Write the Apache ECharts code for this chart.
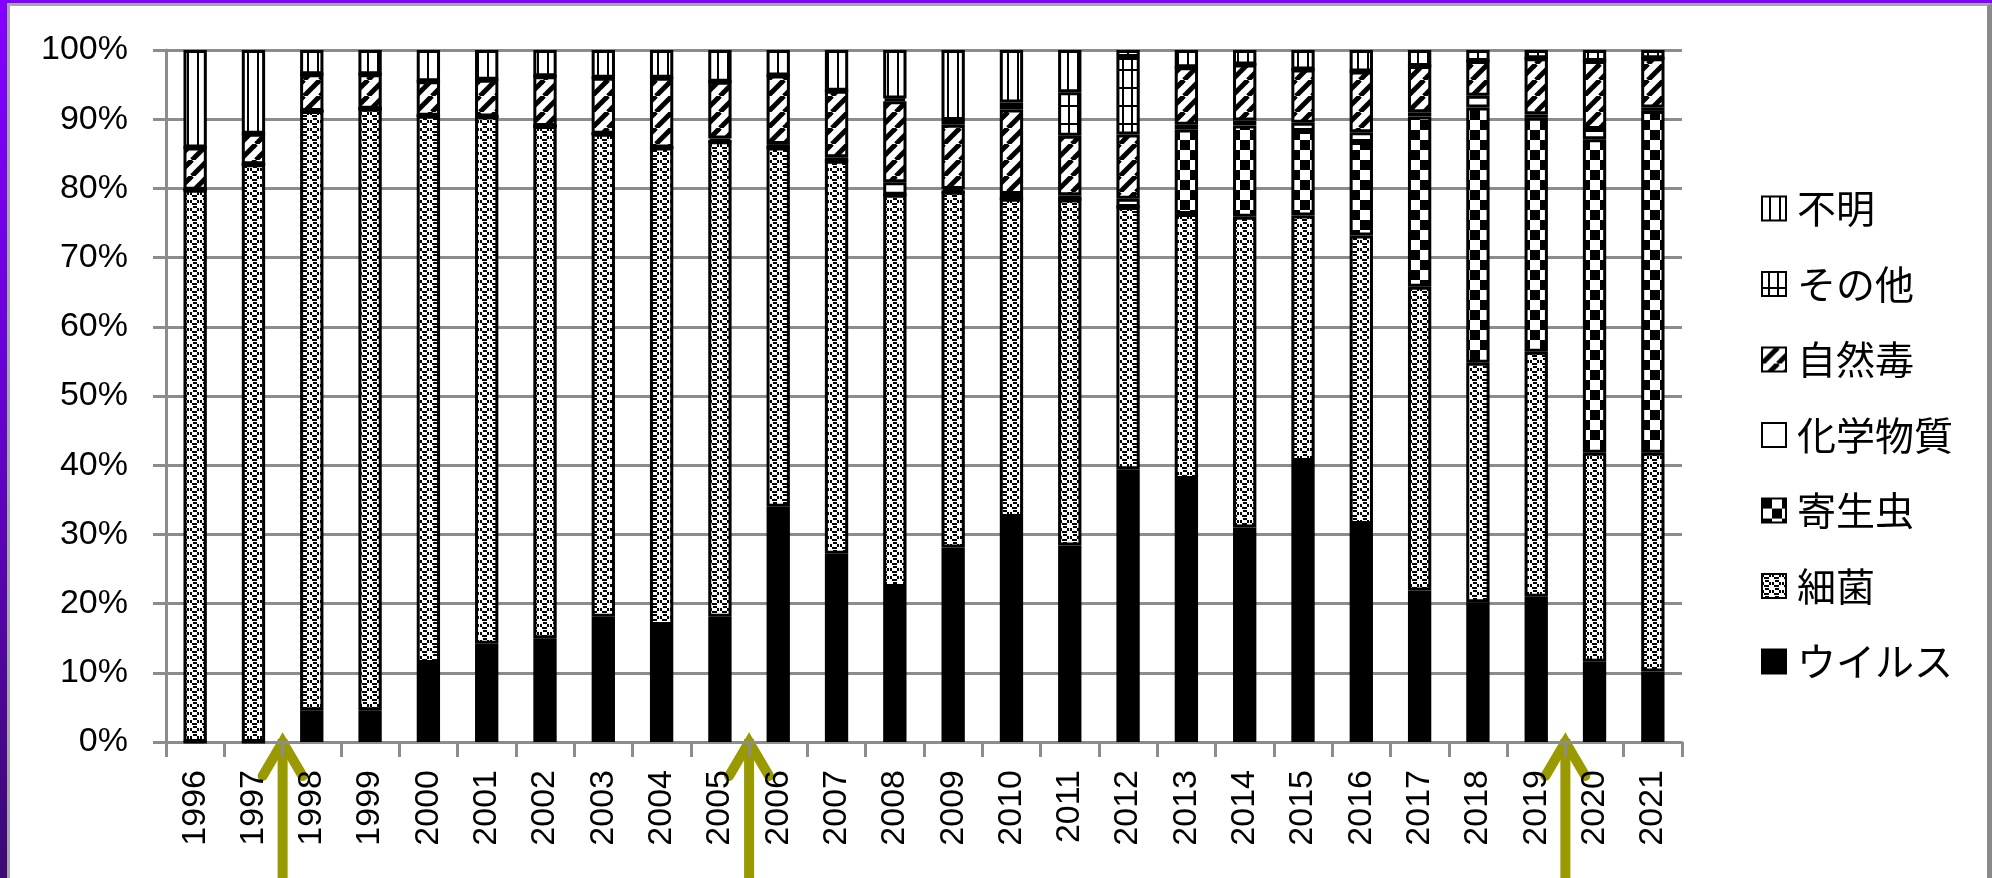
<!DOCTYPE html>
<html>
<head>
<meta charset="utf-8">
<script src="https://cdn.jsdelivr.net/npm/echarts@6/dist/echarts.min.js"></script>
<style>
  html, body { margin: 0; padding: 0; width: 1992px; height: 878px; overflow: hidden; }
  body { background: linear-gradient(180deg, #8400ff 0%, #6a00d8 40%, #3c0a72 100%); position: relative; }
  #frame {
    position: absolute; left: 7px; top: 3px; right: 0; bottom: -10px;
    background: #fff;
    border-left: 3px solid #a6a6a6; border-top: 3px solid #a6a6a6; border-right: 5px solid #8a8a8a;
  }
  #chart { position: absolute; left: 0; top: 0; width: 1992px; height: 878px; }
</style>
</head>
<body>
<div id="frame"></div>
<div id="chart"></div>
<script>
// Share of food-poisoning incidents by cause, per year (percent of total)
const years = ['1996','1997','1998','1999','2000','2001','2002','2003','2004','2005','2006','2007','2008',
               '2009','2010','2011','2012','2013','2014','2015','2016','2017','2018','2019','2020','2021'];
const virus        = [0, 0, 4.6, 4.6, 11.4, 14.2, 15.0, 18.1, 16.9, 18.1, 34.0, 27.2, 22.4,
                      28.1, 32.5, 28.4, 39.4, 38.0, 31.0, 40.6, 31.5, 21.9, 20.2, 21.0, 11.6, 10.2];
const bacteria     = [79.8, 83.5, 86.6, 86.9, 79.1, 76.2, 74.0, 69.8, 69.0, 68.7, 51.9, 56.8, 56.7,
                      51.4, 46.0, 50.0, 37.9, 38.3, 44.9, 35.5, 41.7, 43.9, 34.6, 35.4, 30.2, 31.6];
const parasite     = [0, 0, 0, 0, 0, 0, 0, 0, 0, 0, 0, 0, 0,
                      0, 0, 0, 0, 12.2, 13.2, 12.2, 13.5, 24.6, 36.9, 33.8, 45.3, 49.4];
const chemical     = [0, 0, 0, 0, 0, 0, 0, 0, 0, 0.4, 0.5, 0.5, 1.8,
                      0.4, 0.7, 0.6, 1.2, 0.7, 0.7, 1.2, 1.4, 0.6, 1.7, 0.5, 1.5, 0.5];
const naturalToxin = [6.1, 4.4, 5.3, 5.0, 5.0, 5.3, 7.2, 8.1, 10.1, 8.2, 9.9, 9.6, 11.7,
                      9.3, 12.2, 8.6, 9.3, 8.3, 8.1, 7.7, 8.8, 6.7, 5.0, 8.1, 9.8, 7.1];
const other        = [0, 0, 0, 0, 0, 0, 0, 0, 0, 0, 0, 0, 0.4,
                      0.7, 1.0, 6.3, 11.2, 0, 0, 0, 0, 0, 0, 0, 0, 0];
const unknown      = [14.1, 12.1, 3.5, 3.5, 4.5, 4.3, 3.8, 4.0, 4.0, 4.6, 3.7, 5.9, 7.0,
                      10.1, 7.6, 6.1, 1.0, 2.5, 2.1, 2.8, 3.1, 2.3, 1.6, 1.2, 1.6, 1.2];
const seriesNames  = ['ウイルス', '細菌', '寄生虫', '化学物質', '自然毒', 'その他', '不明'];
const legendOrder  = ['不明', 'その他', '自然毒', '化学物質', '寄生虫', '細菌', 'ウイルス'];
// arrows stand on the boundary right after these years
const arrowAfter   = ['1997', '2005', '2019'];

// monochrome hatch tiles
function tile(w, h, draw) {
  const c = document.createElement('canvas');
  c.width = w; c.height = h;
  const g = c.getContext('2d');
  g.fillStyle = '#fff'; g.fillRect(0, 0, w, h);
  g.fillStyle = '#000'; g.strokeStyle = '#000';
  draw(g);
  return { image: c, repeat: 'repeat' };
}
const fills = {
  'ウイルス': '#000',
  '細菌': tile(10, 8, g => {
    g.fillRect(0, 0, 2, 3); g.fillRect(2, 3, 5, 2); g.fillRect(7, 0, 2, 3);
    g.fillRect(3, 6, 4, 2);
  }),
  '寄生虫': tile(20, 20, g => { g.fillRect(0, 0, 10, 10); g.fillRect(10, 10, 10, 10); }),
  '化学物質': '#fff',
  '自然毒': tile(16, 16, g => {
    g.lineWidth = 5;
    [-16, 0, 16].forEach(k => { g.beginPath(); g.moveTo(k, 16); g.lineTo(k + 16, 0); g.stroke(); });
  }),
  'その他': tile(9, 18, g => { g.fillRect(6, 0, 2, 18); g.fillRect(0, 15, 9, 2); }),
  '不明': tile(10, 4, g => { g.fillRect(7, 0, 2, 4); })
};
const values = [virus, bacteria, parasite, chemical, naturalToxin, other, unknown];

const chart = echarts.init(document.getElementById('chart'), null, { renderer: 'canvas' });
const axisFont = { fontFamily: 'Liberation Sans, Arial, sans-serif', fontSize: 34, color: '#000' };

chart.setOption({
  animation: false,
  grid: { left: 166, right: 310, top: 50, bottom: 136 },
  legend: {
    orient: 'vertical', left: 1761, top: 189, padding: 0,
    icon: 'rect',
    itemWidth: 24, itemHeight: 24, itemGap: 36.5,
    selectedMode: false,
    data: legendOrder,
    textStyle: { fontFamily: 'Noto Sans CJK JP', fontSize: 39, color: '#000', padding: [0, 0, 0, 6] }
  },
  xAxis: {
    type: 'category', data: years,
    axisLine: { lineStyle: { color: '#8c8c8c', width: 3 } },
    axisTick: { show: true, length: 15, lineStyle: { color: '#8c8c8c', width: 3 } },
    axisLabel: Object.assign({ rotate: 90, margin: 28, interval: 0 }, axisFont)
  },
  yAxis: {
    type: 'value', min: 0, max: 100, interval: 10,
    axisLine: { show: true, lineStyle: { color: '#8c8c8c', width: 3 } },
    axisTick: { show: true, length: 13, lineStyle: { color: '#8c8c8c', width: 3 } },
    splitLine: { lineStyle: { color: '#8c8c8c', width: 3 } },
    axisLabel: Object.assign({ formatter: '{value}%', margin: 38 }, axisFont)
  },
  series: seriesNames.map((name, i) => ({
    name, type: 'bar', stack: 'total', barWidth: '40%',
    data: values[i],
    itemStyle: { color: fills[name], borderColor: '#000', borderWidth: 3 },
    emphasis: { disabled: true }
  }))
});

// olive arrows pointing up at the x axis
const baseY = chart.convertToPixel({ yAxisIndex: 0 }, 0);
const arrowColor = '#999900';
chart.setOption({
  graphic: arrowAfter.map(y => {
    const i = years.indexOf(y);
    const x = (chart.convertToPixel({ xAxisIndex: 0 }, years[i]) +
               chart.convertToPixel({ xAxisIndex: 0 }, years[i + 1])) / 2;
    const tip = baseY - 11;
    return {
      type: 'group', z: 100,
      children: [
        { type: 'line', shape: { x1: x, y1: tip + 8, x2: x, y2: 900 },
          style: { stroke: arrowColor, lineWidth: 10 } },
        { type: 'polyline', shape: { points: [[x - 20, tip + 45], [x, tip + 11], [x + 20, tip + 45]] },
          style: { stroke: arrowColor, lineWidth: 10, lineCap: 'round', lineJoin: 'miter', miterLimit: 10, fill: null } }
      ]
    };
  })
});
</script>
</body>
</html>
